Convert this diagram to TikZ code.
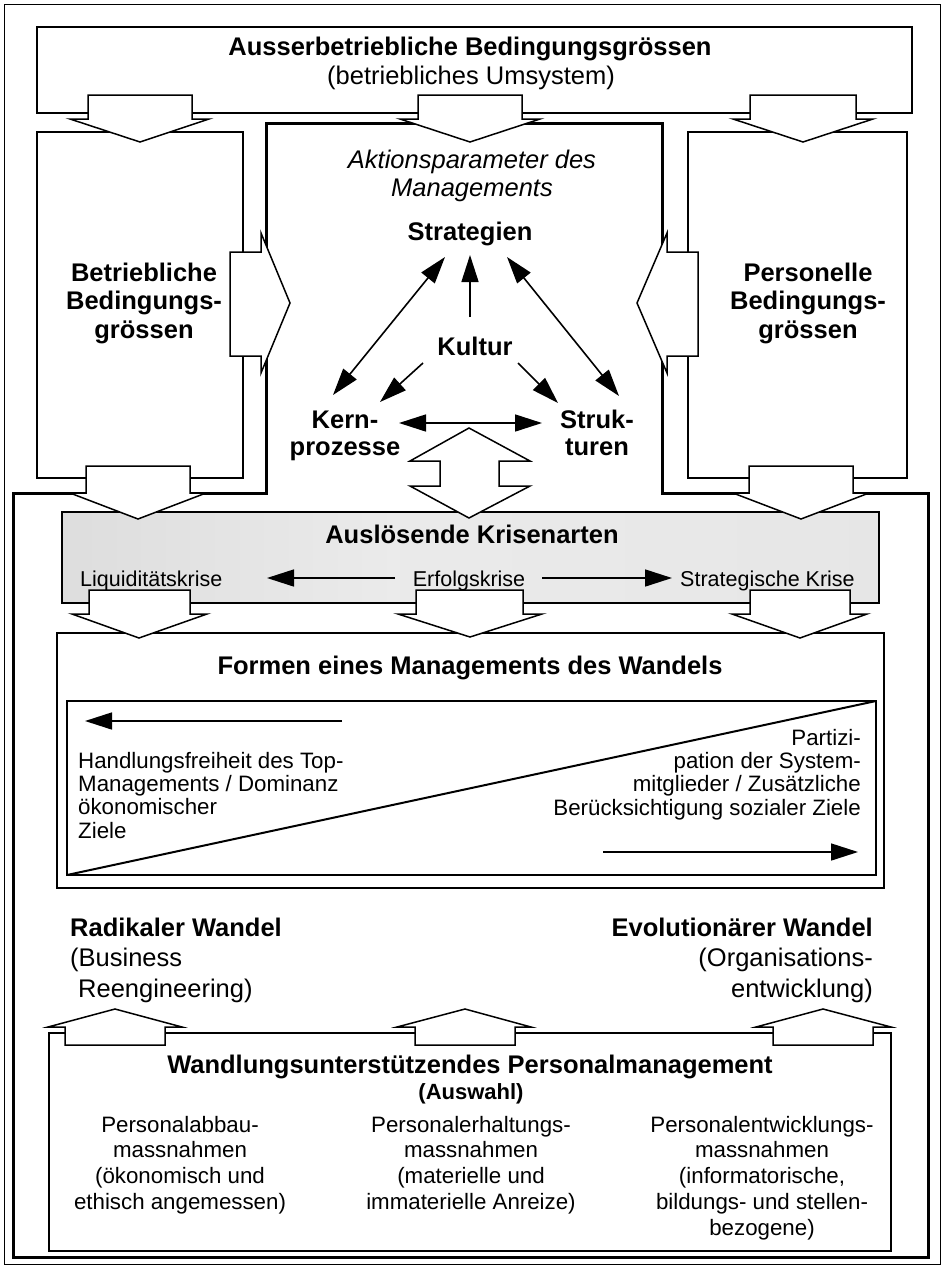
\documentclass[tikz,border=0pt]{standalone}
\usepackage{fontspec}
\setmainfont{Liberation Sans}
\usetikzlibrary{arrows.meta}
\newcommand{\mlines}[2]{\begin{tabular}[t]{@{}#1@{}}#2\end{tabular}}
\newcommand{\fbig}{\fontsize{25.5}{28.5}\selectfont}
\newcommand{\fmid}{\fontsize{22.3}{25.8}\selectfont}
\newcommand{\fform}{\fontsize{22.3}{23.4}\selectfont}
\newcommand{\fkrise}{\fontsize{21.5}{24}\selectfont}
\newcommand{\dnarrow}[8]{\draw[blockarrow] (#1,#5) -- (#2,#5) -- (#2,#6) -- (#4,#6) -- (#7,#8) -- (#3,#6) -- (#1,#6) -- cycle;}
\newcommand{\hzarrow}[8]{\draw[blockarrow] (#5,#1) -- (#6,#1) -- (#6,#3) -- (#7,#8) -- (#6,#4) -- (#6,#2) -- (#5,#2) -- cycle;}
\pgfdeclarehorizontalshading{krise}{100bp}{color(0bp)=(black!55); color(10bp)=(black!38); color(22bp)=(black!14); color(45bp)=(black!8); color(80bp)=(black!10); color(100bp)=(black!24)}
\begin{document}
\begin{tikzpicture}[x=1pt,y=-1pt,
  thinbox/.style={draw, line width=1.5pt},
  thickline/.style={draw, line width=3pt, line join=miter},
  blockarrow/.style={draw, fill=white, line width=1.5pt, line join=miter},
  txt/.style={inner sep=0pt, anchor=base},
  tip/.style={Triangle[length=27pt,width=17pt]},
  arr/.style={line width=1.6pt, -{Triangle[length=27pt,width=17pt]}},
  darr/.style={line width=1.6pt, {Triangle[length=27pt,width=17pt]}-{Triangle[length=27pt,width=17pt]}}]
\useasboundingbox (0,0) rectangle (946,1269);
\fill[white] (0,0) rectangle (946,1269);
% outer frame
\draw[line width=1pt] (4,4) rectangle (940,1264);
% boxes
\draw[thinbox] (37,27) rectangle (912,113);
\draw[thinbox] (37,132) rectangle (243,478);
\draw[thinbox] (688,132) rectangle (907,478);
\draw[thickline] (266,123) -- (662,123) -- (662,493) -- (928,493) -- (928,1257) -- (13,1257) -- (13,493) -- (266,493) -- cycle;
\shadedraw[shading=krise, line width=1.2pt] (62,512) rectangle (879,603);
\draw[thinbox] (57,633) rectangle (884,888);
\draw[line width=2pt] (67,701) rectangle (876,875);
\draw[line width=2pt] (67,875) -- (876,701);
\draw[thinbox] (49,1033) rectangle (891,1251);
% block arrows
\dnarrow{88}{192}{70}{209}{95}{119}{140}{142}
\dnarrow{418}{522}{400}{540}{95}{119}{470}{142}
\dnarrow{750}{856}{733}{873}{95}{119}{803}{142}
\hzarrow{252}{356}{233}{373}{230}{261}{290}{303}
\hzarrow{252}{356}{233}{373}{698}{667}{637}{303}
\dnarrow{86}{190}{70}{206}{466}{493}{138}{519}
\dnarrow{749}{853}{733}{869}{466}{493}{801}{519}
\draw[blockarrow] (469,428) -- (530,461) -- (499,461) -- (499,486) -- (530,486) -- (469,518) -- (410,486) -- (440,486) -- (440,461) -- (410,461) -- cycle;
\dnarrow{89}{190}{72}{207}{590}{614}{139}{638}
\dnarrow{416}{523}{398}{542}{590}{614}{470}{637}
\dnarrow{750}{850}{732}{867}{590}{614}{800}{638}
\dnarrow{65}{165}{48}{182}{1045}{1027}{115}{1009}
\dnarrow{415}{515}{397}{531}{1045}{1027}{465}{1009}
\dnarrow{773}{873}{756}{891}{1045}{1027}{823}{1009}
% texts top
\node[txt,font=\fbig\bfseries] (ausser) at (470,55) {Ausserbetriebliche Bedingungsgrössen};
\node[txt,font=\fbig] (umsys) at (471,84) {(betriebliches Umsystem)};
\node[txt,font=\fbig\bfseries] (betr) at (144,281) {\mlines{c}{Betriebliche\\Bedingungs-\\grössen}};
\node[txt,font=\fbig\bfseries] (pers) at (808,281) {\mlines{c}{Personelle\\Bedingungs-\\grössen}};
\node[txt,font=\fbig\itshape] (aktion) at (472,168) {\mlines{c}{Aktionsparameter des\\Managements}};
\node[txt,font=\fbig\bfseries] (strat) at (470,240) {Strategien};
\node[txt,font=\fbig\bfseries] (kultur) at (475,355) {Kultur};
\node[txt,font=\fontsize{25.5}{27}\selectfont\bfseries] (kern) at (345,428) {\mlines{c}{Kern-\\prozesse}};
\node[txt,font=\fontsize{25.5}{27}\selectfont\bfseries] (struk) at (597,428) {\mlines{c}{Struk-\\turen}};
% triangle connectors
\coordinate (sK) at (445,257); \coordinate (kS) at (333,395);
\coordinate (sT) at (507,257); \coordinate (tS) at (619,396);
\coordinate (kuS) at (470,317); \coordinate (sKu) at (470,255);
\coordinate (kuK) at (423,363); \coordinate (kKu) at (380,402);
\coordinate (kuT) at (518,363); \coordinate (tKu) at (558,403);
\coordinate (kT) at (399,423); \coordinate (tK) at (542,423);
\draw[darr] (sK) -- (kS);
\draw[darr] (sT) -- (tS);
\draw[arr] (kuS) -- (sKu);
\draw[arr] (kuK) -- (kKu);
\draw[arr] (kuT) -- (tKu);
\draw[darr] (kT) -- (tK);
% Krisen
\node[txt,font=\fbig\bfseries] (krisen) at (472,543) {Auslösende Krisenarten};
\node[txt,anchor=base west,font=\fkrise] (liq) at (80,586) {Liquiditätskrise};
\node[txt,font=\fkrise] (erf) at (469,586) {Erfolgskrise};
\node[txt,anchor=base west,font=\fkrise] (stratk) at (680,586) {Strategische Krise};
\coordinate (eL) at (395,578); \coordinate (lE) at (267,578);
\coordinate (eR) at (542,578); \coordinate (rE) at (672,578);
\draw[arr] (eL) -- (lE);
\draw[arr] (eR) -- (rE);
% Formen
\node[txt,font=\fbig\bfseries] (formen) at (470,674) {Formen eines Managements des Wandels};
\coordinate (fl1) at (342,721); \coordinate (fl2) at (85,721);
\coordinate (fr1) at (603,852); \coordinate (fr2) at (858,852);
\draw[arr] (fl1) -- (fl2);
\draw[arr] (fr1) -- (fr2);
\node[txt,anchor=base west,font=\fform] (links) at (78,768) {\mlines{l}{Handlungsfreiheit des Top-\\Managements / Dominanz\\ökonomischer\\Ziele}};
\node[txt,anchor=base east,font=\fform] (rechts) at (861,745) {\mlines{r}{Partizi-\\pation der System-\\mitglieder / Zusätzliche\\Berücksichtigung sozialer Ziele}};
% Wandel
\node[txt,anchor=base west,font=\fontsize{25.5}{30.5}\selectfont] (radikal) at (70,936) {\mlines{l}{\textbf{Radikaler Wandel}\\(Business\\\hspace{8pt}Reengineering)}};
\node[txt,anchor=base east,font=\fontsize{25.5}{30.5}\selectfont] (evol) at (873,936) {\mlines{r}{\textbf{Evolutionärer Wandel}\\(Organisations-\hspace{9pt}\\entwicklung)}};
% Personalmanagement
\node[txt,font=\fbig\bfseries] (wpm) at (470,1073) {Wandlungsunterstützendes Personalmanagement};
\node[txt,font=\fontsize{22}{24}\selectfont\bfseries] (auswahl) at (471,1099) {(Auswahl)};
\node[txt,font=\fmid] (abbau) at (180,1132) {\mlines{c}{Personalabbau-\\massnahmen\\(ökonomisch und\\ethisch angemessen)}};
\node[txt,font=\fmid] (erhalt) at (471,1132) {\mlines{c}{Personalerhaltungs-\\massnahmen\\(materielle und\\immaterielle Anreize)}};
\node[txt,font=\fmid] (entw) at (762,1132) {\mlines{c}{Personalentwicklungs-\\massnahmen\\(informatorische,\\bildungs- und stellen-\\bezogene)}};
\end{tikzpicture}
\end{document}
